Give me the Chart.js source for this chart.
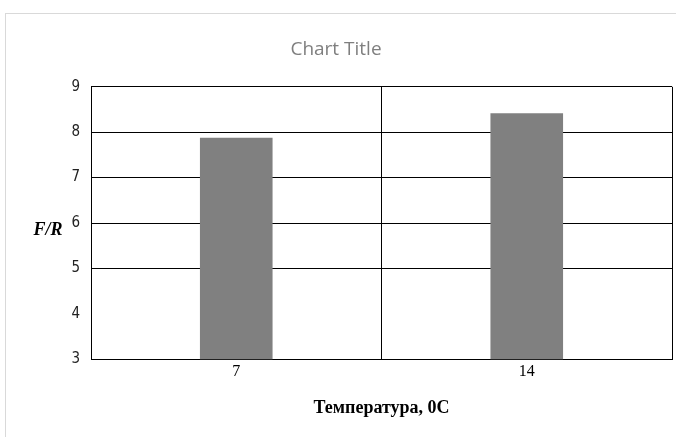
<!DOCTYPE html>
<html>
<head>
<meta charset="utf-8">
<script src="https://cdn.jsdelivr.net/npm/chart.js@4/dist/chart.umd.min.js"></script>
<style>
	html, body { margin: 0; padding: 0; background: #fff; overflow: hidden; }
	#frame { position: absolute; left: 5px; top: 13px; width: 720px; height: 480px;
		border-left: 1px solid #d9d9d9; border-top: 1px solid #d9d9d9; }
	#wrap { position: absolute; left: 0; top: 0; width: 676px; height: 437px; }
</style>
</head>
<body>
<div id="frame"></div>
<div id="wrap"><canvas id="chart"></canvas></div>
<script>
"use strict";

// Data

var categories = ["7", "14"],
	ratioValues = [7.88, 8.42];

var Y_MIN = 3,
	Y_MAX = 9,
	Y_STEP = 1;

var TITLE = "Chart Title",
	X_TITLE = "Температура, 0С",
	Y_TITLE = "F/R";

// horizontal y title, drawn beside the axis like the original
var yTitlePlugin = {
	id: "yTitle",
	afterDraw: function (chart) {
		var ctx = chart.ctx;

		ctx.save();
		ctx.font = "italic bold 18px 'Liberation Serif', serif";
		ctx.fillStyle = "#000";
		ctx.textAlign = "center";
		ctx.textBaseline = "middle";
		ctx.fillText(Y_TITLE, 48, (chart.chartArea.top + chart.chartArea.bottom) / 2 + 7);
		ctx.restore();
	}
};

new Chart(document.getElementById("chart"), {
	type: "bar",
	data: {
		labels: categories,
		datasets: [{
			data: ratioValues,
			backgroundColor: "#808080",
			borderWidth: 0,
			barPercentage: 0.25,
			categoryPercentage: 1
		}]
	},
	options: {
		responsive: true,
		maintainAspectRatio: false,
		animation: false,
		layout: { padding: { left: 0, right: 4, top: 0, bottom: 18 } },
		plugins: {
			legend: { display: false },
			tooltip: { enabled: false },
			title: {
				display: true,
				text: TITLE,
				color: "#7f7f7f",
				font: { family: "'Open Sans', sans-serif", size: 19, weight: "normal" },
				padding: { top: 38, bottom: 26 }
			}
		},
		scales: {
			x: {
				grid: { color: "#000", drawTicks: false, offset: true },
				border: { color: "#000" },
				ticks: {
					color: "#000",
					padding: 3,
					font: { family: "'Liberation Serif', serif", size: 16 }
				},
				title: {
					display: true,
					text: X_TITLE,
					color: "#000",
					font: { family: "'Liberation Serif', serif", size: 18, weight: "bold" },
					padding: { top: 13, bottom: 0 }
				}
			},
			y: {
				min: Y_MIN,
				max: Y_MAX,
				afterFit: function (scale) { scale.width = 91; },
				grid: {
					drawTicks: false,
					color: function (ctx) {
						return ctx.tick && ctx.tick.value === 4 ? "rgba(0,0,0,0)" : "#000";
					}
				},
				border: { color: "#000" },
				ticks: {
					stepSize: Y_STEP,
					color: "#222",
					padding: 11,
					font: { family: "'Liberation Sans Narrow', 'DejaVu Sans Condensed', sans-serif", size: 15 }
				}
			}
		}
	},
	plugins: [yTitlePlugin]
});
</script>
</body>
</html>
